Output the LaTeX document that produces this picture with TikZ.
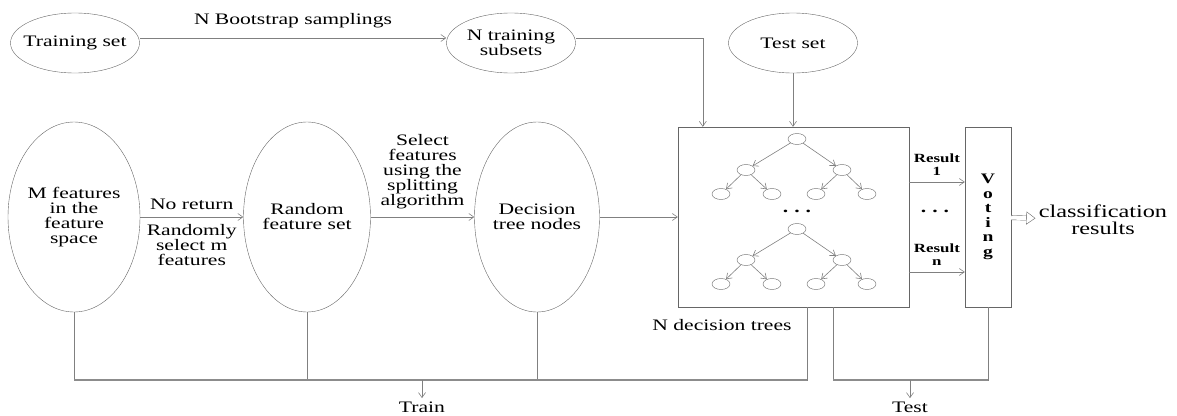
\documentclass[tikz,border=0pt]{standalone}
\usepackage{fontspec}
\setmainfont{Liberation Serif}[FakeStretch=1.35]
\usetikzlibrary{arrows.meta,shapes.geometric}
\tikzset{
  every node/.style={font=\fontsize{16}{15}\selectfont},
  oval/.style={draw=black!60, ellipse, inner ysep=0pt, inner xsep=-8pt, align=center},
  panel/.style={draw=black!60, rectangle, inner sep=0pt, align=center},
  tnode/.style={draw=black!60, ellipse, minimum width=18pt, minimum height=11pt, inner sep=0pt},
  link/.style={draw=black!50, line width=0.6pt},
  bar/.style={draw=black!45, line width=1.3pt},
  res/.style={font=\bfseries\fontsize{12.5}{13}\selectfont, align=center, inner sep=1pt},
  hollow/.style={draw=black!60, double=white, double distance=4pt, -{Triangle[open, length=9pt, width=13pt]}}
}
\begin{document}
\begin{tikzpicture}[x=1pt, y=-1pt, >={Straight Barb[length=5pt, width=7pt]}]
\useasboundingbox (0,0) rectangle (1177,415);
\node[oval, minimum width=129pt, minimum height=60pt] (train) at (75,43) {Training set};
\node[oval, minimum width=129pt, minimum height=60pt] (sub) at (511,43) {N training\\subsets};
\node[oval, minimum width=129pt, minimum height=60pt] (test) at (793,43) {Test set};
\node[oval, minimum width=132pt, minimum height=190pt] (feat) at (74,217) {M features\\in the\\feature\\space};
\node[oval, minimum width=127pt, minimum height=190pt] (rand) at (307,217) {Random\\feature set};
\node[oval, minimum width=125pt, minimum height=190pt] (dtn) at (537,217) {Decision\\tree nodes};
\node[panel, minimum width=231pt, minimum height=180pt] (forest) at (793.5,217) {};
\node[panel, minimum width=46pt, minimum height=180pt, font=\bfseries\fontsize{14.5}{14.5}\selectfont] (vote) at (988,217) {V\\o\\t\\i\\n\\g};
\node[align=center, font=\fontsize{18}{17}\selectfont] (cls) at (1103,220) {classification\\results};
\node (dots1) at (797,211) {\textbf{.\hspace{6pt}.\hspace{6pt}.}};
\node (dots2) at (935,211) {\textbf{.\hspace{6pt}.\hspace{6pt}.}};
\node (nlbl) at (722,325) {N decision trees};
\node (trainlbl) at (422,407) {Train};
\node (testlbl) at (910,407) {Test};
\coordinate (in1) at ([xshift=25pt]forest.north west);
\coordinate (r1) at (909,182);
\coordinate (rn) at (909,272);
\coordinate (f1) at ([xshift=13.5pt]forest.south);
\coordinate (f2) at ([xshift=39.5pt]forest.south);
\coordinate (tbar) at (422,380);
\coordinate (sbar) at (910,380);
\foreach \t/\y in {a/139, b/229} {
  \node[tnode] (\t0) at (797,\y) {};
  \node[tnode] (\t1) at (746,\y+31) {};
  \node[tnode] (\t2) at (842,\y+31) {};
  \node[tnode] (\t3) at (721,\y+55) {};
  \node[tnode] (\t4) at (772,\y+55) {};
  \node[tnode] (\t5) at (816,\y+55) {};
  \node[tnode] (\t6) at (867,\y+55) {};
  \draw[link, ->] (\t0) -- (\t1);
  \draw[link, ->] (\t0) -- (\t2);
  \draw[link, ->] (\t1) -- (\t3);
  \draw[link, ->] (\t1) -- (\t4);
  \draw[link, ->] (\t2) -- (\t5);
  \draw[link, ->] (\t2) -- (\t6);
}
\draw[link, ->] ([yshift=5pt]train.east) -- ([yshift=5pt]sub.west) node[midway, above=6pt] {N Bootstrap samplings};
\draw[link, ->] ([yshift=5pt]sub.east) -| (in1);
\draw[link, ->] (test) -- (test |- forest.north);
\draw[link, ->] (feat) -- (rand) node[midway, above=4pt] {No return} node[midway, below=4pt, align=center] {Randomly\\select m\\features};
\draw[link, ->] (rand) -- (dtn) node[midway, above=4pt, align=center] {Select\\features\\using the\\splitting\\algorithm};
\draw[link, ->] (dtn) -- (dtn -| forest.west);
\draw[link, ->] (r1) -- (r1 -| vote.west) node[midway, above=5pt, res] {Result\\1};
\draw[link, ->] (rn) -- (rn -| vote.west) node[midway, above=5pt, res] {Result\\n};
\draw[hollow] (vote) -- (cls);
\draw[link] (feat.south) |- (tbar);
\draw[link] (rand.south) -- (rand.south |- tbar);
\draw[link] (dtn.south) -- (dtn.south |- tbar);
\draw[link] (f1) |- (tbar);
\draw[link] (f2) |- (sbar);
\draw[link] (vote.south) |- (sbar);
\draw[bar] (feat.south |- tbar) -- (f1 |- tbar);
\draw[bar] (f2 |- sbar) -- (vote.south |- sbar);
\draw[link, ->] (tbar) -- (trainlbl);
\draw[link, ->] (sbar) -- (testlbl);
\end{tikzpicture}
\end{document}
